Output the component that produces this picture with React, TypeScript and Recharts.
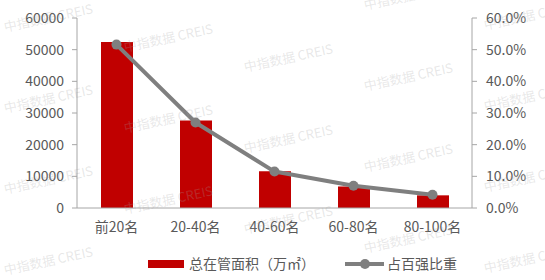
import * as React from 'react';
import { ComposedChart, Bar, Line, XAxis, YAxis, Legend } from 'recharts';

const categories = ['前20名', '20-40名', '40-60名', '60-80名', '80-100名'];
const areaValues = [52400, 27600, 11600, 6800, 4000];
const shareValues = [51.6, 27.0, 11.5, 7.0, 4.2];
const areaTicks = [0, 10000, 20000, 30000, 40000, 50000, 60000];
const shareTicks = [0, 10, 20, 30, 40, 50, 60];

const areaName = '总在管面积（万㎡）';
const shareName = '占百强比重';

// faint "中指数据 CREIS" watermark, left-baseline positions
const watermarkSpots: [number, number][] = [
  [5, 32], [5, 113], [5, 194], [5, 275],
  [125, 52], [125, 133], [125, 214],
  [245, 72], [245, 153], [245, 234],
  [365, 10], [365, 91], [365, 172], [365, 253],
  [485, 30], [485, 111], [485, 192], [485, 273],
];

const FONT = '"Noto Sans CJK SC", "Noto Sans", sans-serif';
const TEXT = '#595959';
const AXIS = '#a6a6a6';
const RED = '#C00000';
const GREY = '#7F7F7F';

const data = categories.map((name, i) => ({
  name,
  area: areaValues[i],
  share: shareValues[i],
}));

function renderLegend() {
  return (
    <div style={{ position: 'relative', width: 545, height: 20, fontSize: 14, color: TEXT, lineHeight: '20px' }}>
      <span style={{ position: 'absolute', left: 148, top: 7, width: 36, height: 8, background: RED }} />
      <span style={{ position: 'absolute', left: 189, top: 0, whiteSpace: 'nowrap' }}>{areaName}</span>
      <span style={{ position: 'absolute', left: 345, top: 9, width: 39, height: 4, background: GREY }} />
      <span style={{ position: 'absolute', left: 360, top: 6, width: 10, height: 10, borderRadius: 5, background: GREY }} />
      <span style={{ position: 'absolute', left: 387, top: 0, whiteSpace: 'nowrap' }}>{shareName}</span>
    </div>
  );
}

export default function App() {
  return (
    <div style={{ position: 'absolute', left: 0, top: 0, width: 545, height: 280, background: '#fff', fontFamily: FONT }}>
      <ComposedChart
        width={545}
        height={280}
        data={data}
        margin={{ top: 18, right: 0, bottom: 42, left: 0 }}
        barCategoryGap={0}
      >
        <XAxis
          dataKey="name"
          height={30}
          tickLine={false}
          tickSize={0}
          tickMargin={14}
          axisLine={{ stroke: AXIS }}
          tick={{ fontSize: 14, fill: TEXT }}
          interval={0}
        />
        <YAxis
          yAxisId="area"
          orientation="left"
          width={77}
          domain={[0, 60000]}
          ticks={areaTicks}
          tickSize={5}
          tickMargin={8}
          axisLine={{ stroke: AXIS }}
          tickLine={{ stroke: AXIS }}
          tick={{ fontSize: 14, fill: TEXT }}
        />
        <YAxis
          yAxisId="share"
          orientation="right"
          width={73}
          domain={[0, 60]}
          ticks={shareTicks}
          tickSize={5}
          tickMargin={9}
          axisLine={{ stroke: AXIS }}
          tickLine={{ stroke: AXIS }}
          tick={{ fontSize: 14, fill: TEXT }}
          tickFormatter={(v: number) => `${v.toFixed(1)}%`}
        />
        <Legend
          layout="horizontal"
          verticalAlign="middle"
          align="center"
          content={renderLegend}
          wrapperStyle={{ top: 253, left: 0, width: 545, height: 20 }}
        />
        <Bar yAxisId="area" dataKey="area" name={areaName} fill={RED} barSize={32} isAnimationActive={false} />
        <Line
          yAxisId="share"
          type="linear"
          dataKey="share"
          name={shareName}
          stroke={GREY}
          strokeWidth={4}
          strokeLinejoin="round"
          dot={{ r: 5, fill: GREY, stroke: 'none' }}
          activeDot={false}
          isAnimationActive={false}
        />
      </ComposedChart>
      <svg width={545} height={280} style={{ position: 'absolute', left: 0, top: 0, pointerEvents: 'none' }}>
        {watermarkSpots.map(([x, y], i) => (
          <text
            key={i}
            x={x}
            y={y}
            fontSize={13}
            fill="rgba(160,160,160,0.25)"
            fontFamily={FONT}
            transform={`rotate(-12 ${x} ${y})`}
          >
            中指数据 CREIS
          </text>
        ))}
      </svg>
    </div>
  );
}
